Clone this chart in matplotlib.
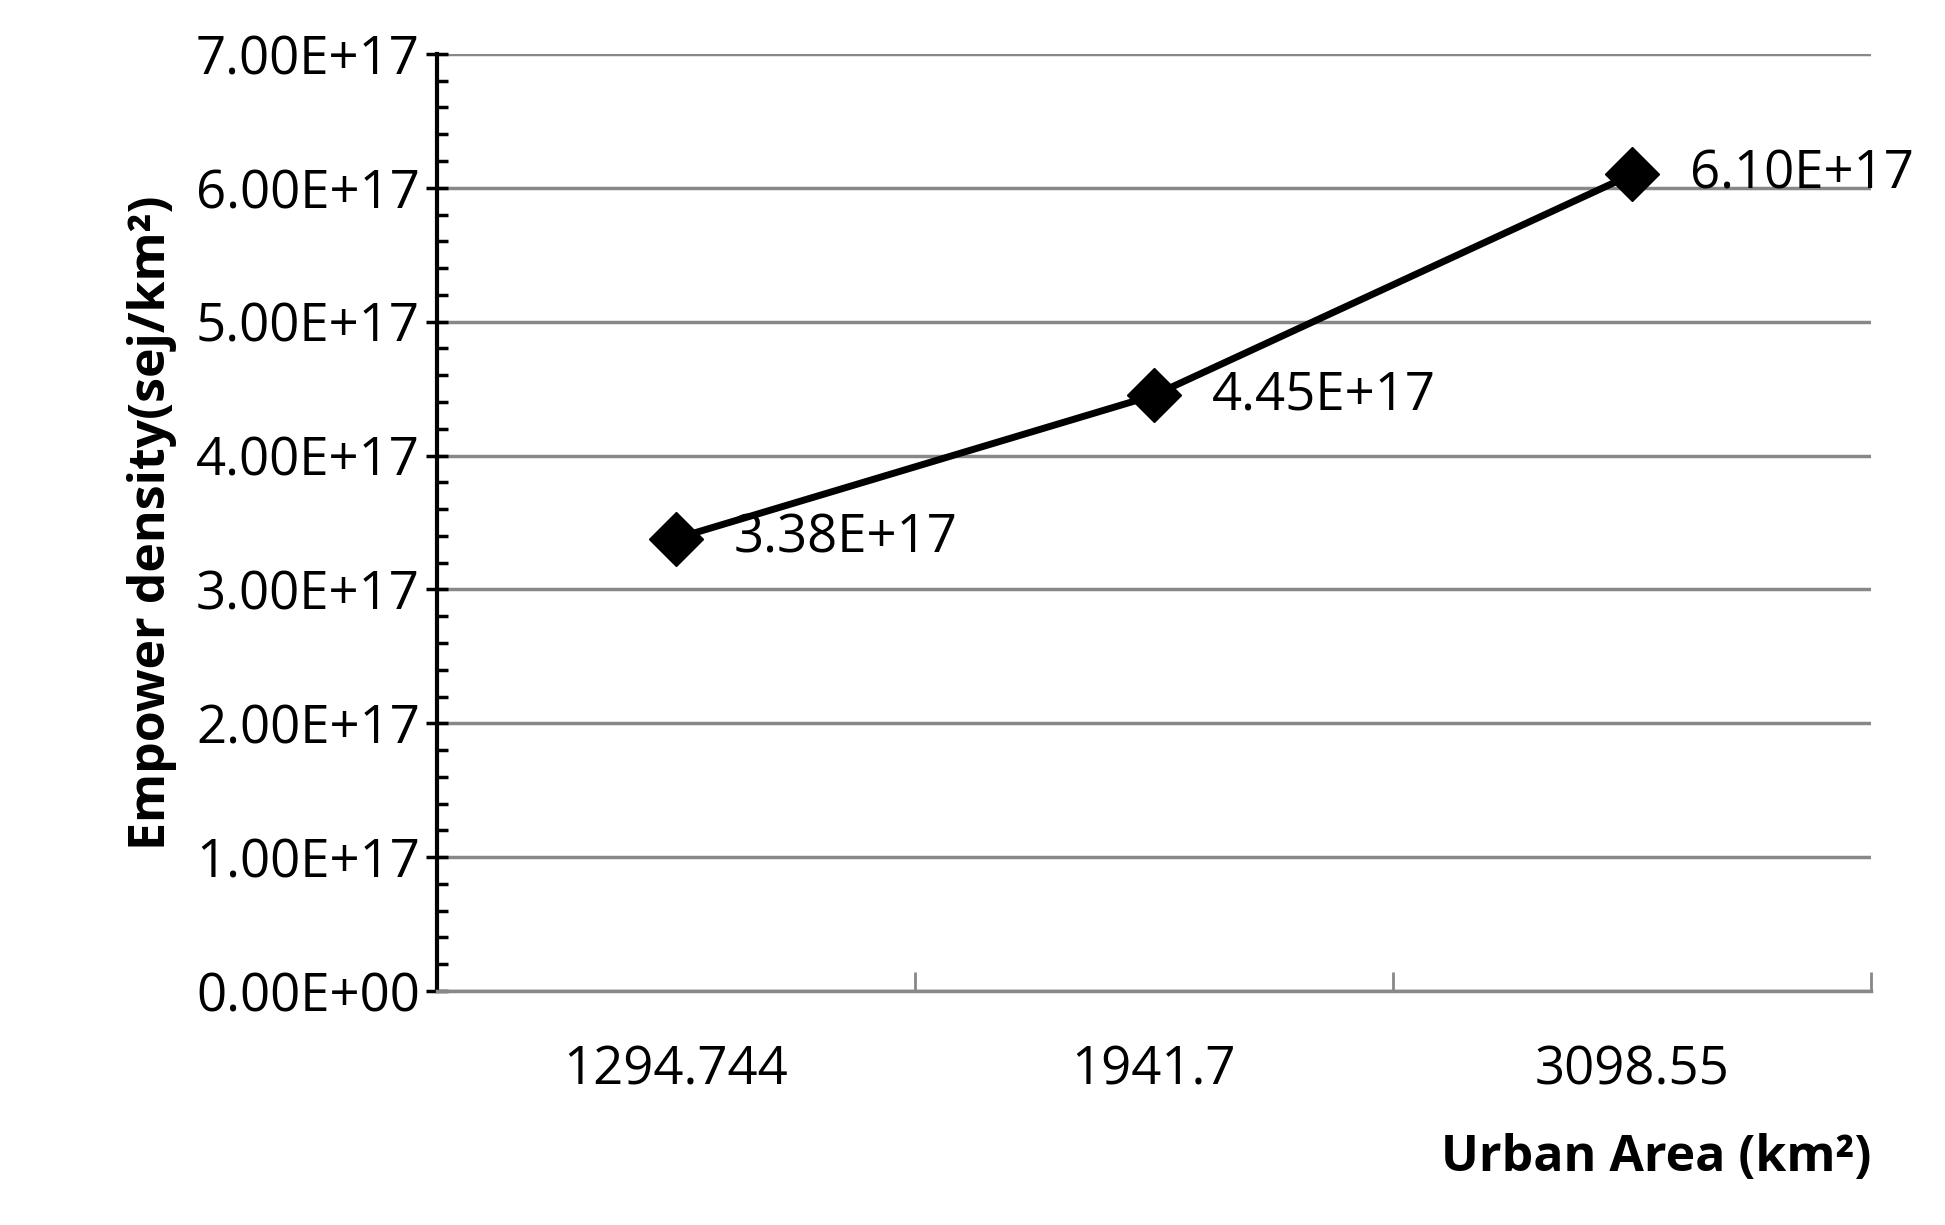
import matplotlib
matplotlib.use("Agg")
import matplotlib.pyplot as plt
from matplotlib.ticker import MultipleLocator, FuncFormatter

categories = ["1294.744", "1941.7", "3098.55"]
values = [3.38e17, 4.45e17, 6.10e17]
labels = ["3.38E+17", "4.45E+17", "6.10E+17"]

plt.rcParams['font.family'] = ['Open Sans', 'DejaVu Sans']
fig = plt.figure(figsize=(19.45, 12.25), dpi=100)
ax = fig.add_axes([0.2245, 0.191, 0.7375, 0.765])
x = range(len(categories))
ax.plot(x, values, color='black', lw=5, marker='D', ms=28, zorder=3)
for xi, v, l in zip(x, values, labels):
    ax.annotate(l, (xi, v), xytext=(42, 0), textcoords='offset points', fontsize=38, va='center', ha='left')
ax.set_xlim(-0.5, 2.5)
ax.set_ylim(0, 7e17)
ax.yaxis.set_major_locator(MultipleLocator(1e17))
ax.yaxis.set_minor_locator(MultipleLocator(0.2e17))
ax.yaxis.set_major_formatter(FuncFormatter(lambda v, p: f"{v/1e17:.2f}E+{17 if v else 0:02d}"))
ax.set_xticks([-0.5, 0.5, 1.5, 2.5], minor=False)
ax.set_xticklabels([])
ax.set_xticks(list(x), minor=True)
ax.set_xticklabels(categories, minor=True, fontsize=38)
ax.tick_params(axis='x', which='major', length=14, width=2, color='#888888', direction='in')
ax.tick_params(axis='x', which='minor', length=0, pad=38)
ax.tick_params(axis='y', which='major', length=16, width=2.5, direction='inout', labelsize=38, pad=4)
ax.tick_params(axis='y', which='minor', length=8, width=2.5, direction='in')
ax.grid(axis='y', which='major', color='#888888', lw=2.5)
ax.set_axisbelow(True)
for s in ['top', 'right']:
    ax.spines[s].set_visible(False)
ax.spines['left'].set_linewidth(3)
ax.spines['bottom'].set_linewidth(2.5)
ax.spines['bottom'].set_color('#888888')
ax.set_ylabel("Empower density(sej/km²)", fontsize=36, fontweight='bold', labelpad=14)
ax.set_xlabel("Urban Area (km²)", fontsize=36, fontweight='bold', loc='right', labelpad=26)
fig.savefig("out.png", dpi=100, facecolor='white')
